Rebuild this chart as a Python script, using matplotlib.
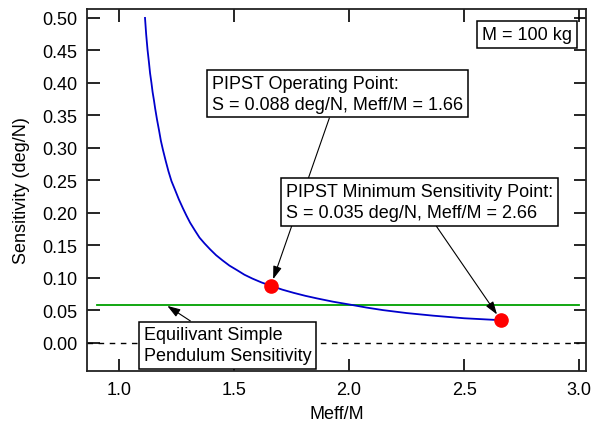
import numpy as np
import matplotlib
matplotlib.use("Agg")
import matplotlib.pyplot as plt

plt.rcParams['font.family'] = ['Liberation Sans', 'DejaVu Sans']

# Curva de sensibilidad
meff_ratio = [1.113, 1.118, 1.124, 1.130, 1.135, 1.141, 1.146, 1.152, 1.157, 1.165,
              1.174, 1.182, 1.191, 1.203, 1.215, 1.228, 1.243, 1.260, 1.278,
              1.293, 1.309, 1.330, 1.350, 1.372, 1.396, 1.422, 1.450, 1.480,
              1.513, 1.545, 1.580, 1.620, 1.660, 1.710, 1.760, 1.810, 1.861,
              1.930, 2.004, 2.075, 2.148, 2.250, 2.365, 2.500, 2.660]
sensitivity = [0.500, 0.475, 0.451, 0.432, 0.415, 0.400, 0.386, 0.373, 0.361, 0.344,
               0.327, 0.311, 0.297, 0.280, 0.264, 0.249, 0.236, 0.221, 0.207,
               0.196, 0.185, 0.173, 0.162, 0.153, 0.144, 0.135, 0.127, 0.119,
               0.112, 0.105, 0.099, 0.093, 0.088, 0.082, 0.077, 0.0725, 0.0685,
               0.0635, 0.059, 0.0545, 0.0505, 0.046, 0.042, 0.038, 0.035]

# Puntos destacados
op_point = (1.66, 0.088)
min_point = (2.66, 0.035)

# Lineas horizontales
pend_x = [0.905, 3.0]
pend_y = [0.058, 0.058]
zero_x = [0.86, 3.0]
zero_y = [0.0, 0.0]

x_ticks = [1.0, 1.5, 2.0, 2.5, 3.0]
y_ticks = [0.00, 0.05, 0.10, 0.15, 0.20, 0.25, 0.30, 0.35, 0.40, 0.45, 0.50]

fig = plt.figure(figsize=(5.92, 4.27), dpi=100)
ax = fig.add_axes([0.147, 0.129, 0.843, 0.848])

ax.plot(zero_x, zero_y, color='black', linestyle=(0, (4, 4)), linewidth=1.0)
ax.plot(pend_x, pend_y, color='#00a000', linewidth=1.3)
ax.plot(meff_ratio, sensitivity, color='#0000cc', linewidth=1.3)
ax.plot([op_point[0], min_point[0]], [op_point[1], min_point[1]], 'o',
        color='red', markersize=9.5, zorder=5)

ax.set_xlim(0.861, 3.03)
ax.set_ylim(-0.043, 0.514)
ax.set_xticks(x_ticks)
ax.set_xticklabels([f"{v:.1f}" for v in x_ticks])
ax.set_yticks(y_ticks)
ax.set_yticklabels([f"{v:.2f}" for v in y_ticks])
ax.tick_params(direction='in', length=9, width=1.2, labelsize=13,
               top=True, right=True, labeltop=False, labelright=False, pad=7)
for s in ax.spines.values():
    s.set_linewidth(1.3)
    s.set_color('#222222')

ax.set_xlabel("Meff/M", fontsize=13, labelpad=5)
ax.set_ylabel("Sensitivity (deg/N)", fontsize=13, labelpad=9)

box = dict(boxstyle='square,pad=0.27', facecolor='white', edgecolor='black', linewidth=1.1)
arrow = dict(arrowstyle='-|>,head_length=0.6,head_width=0.2', color='black',
             linewidth=0.8, shrinkA=0, shrinkB=5)

ax.annotate("PIPST Operating Point:\nS = 0.088 deg/N, Meff/M = 1.66",
            xy=op_point, xycoords='data', xytext=(0.251, 0.818),
            textcoords='axes fraction', ha='left', va='top', fontsize=13,
            linespacing=1.3, bbox=box, arrowprops=arrow, zorder=6)
ax.annotate("PIPST Minimum Sensitivity Point:\nS = 0.035 deg/N, Meff/M = 2.66",
            xy=min_point, xycoords='data', xytext=(0.399, 0.519),
            textcoords='axes fraction', ha='left', va='top', fontsize=13,
            linespacing=1.3, bbox=box, arrowprops=arrow, zorder=6)
ax.annotate("Equilivant Simple\nPendulum Sensitivity",
            xy=(1.21, 0.057), xycoords='data', xytext=(0.114, 0.123),
            textcoords='axes fraction', ha='left', va='top', fontsize=13,
            linespacing=1.3, bbox=box, arrowprops=dict(arrow, shrinkB=0), zorder=6)
ax.text(0.972, 0.953, "M = 100 kg", transform=ax.transAxes, ha='right', va='top',
        fontsize=13, bbox=box, zorder=6)

fig.savefig("out.png", dpi=100)
